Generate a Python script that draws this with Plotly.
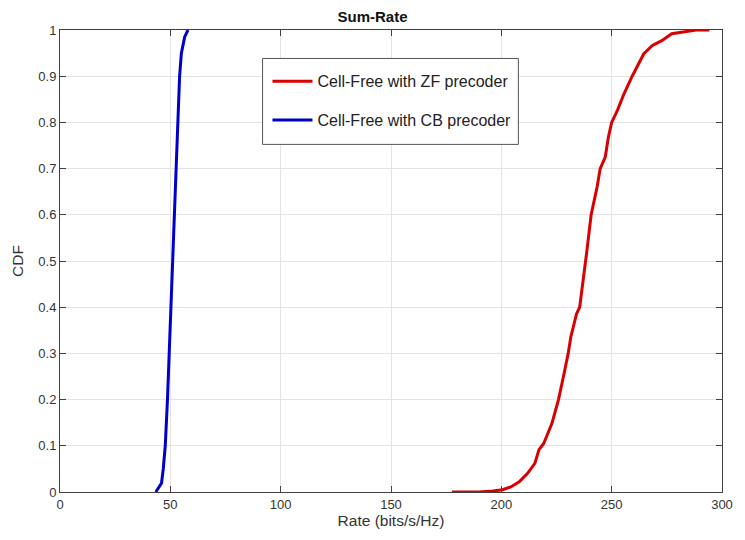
import plotly.graph_objects as go

# Sum-rate CDF data
zf_rate = [177.6, 190.0, 196.2, 200.6, 204.3, 208.1, 211.8, 215.2, 217.0, 219.2, 222.9,
           225.9, 228.1, 230.3, 231.5, 234.1, 235.5, 237.0, 238.1, 238.8, 240.7, 243.4,
           244.8, 247.1, 248.5, 250.0, 252.6, 255.6, 259.3, 262.3, 264.5, 268.3, 272.7,
           277.2, 282.4, 288.3, 294.3]
zf_cdf = [0.0, 0.0, 0.002, 0.005, 0.011, 0.022, 0.040, 0.062, 0.091, 0.105, 0.148,
          0.200, 0.249, 0.300, 0.336, 0.386, 0.400, 0.451, 0.500, 0.523, 0.600, 0.660,
          0.700, 0.725, 0.768, 0.800, 0.826, 0.862, 0.900, 0.927, 0.948, 0.966, 0.977,
          0.992, 0.996, 1.0, 1.0]

cb_rate = [43.4, 46.0, 46.8, 47.7, 48.7, 49.5, 50.2, 51.0, 51.7, 52.6, 53.4, 54.2, 55.0, 56.5, 58.0]
cb_cdf = [0.0, 0.019, 0.05, 0.1, 0.2, 0.3, 0.4, 0.5, 0.6, 0.7, 0.8, 0.9, 0.95, 0.985, 1.0]

x_ticks = [0, 50, 100, 150, 200, 250, 300]
y_ticks = [0, 0.1, 0.2, 0.3, 0.4, 0.5, 0.6, 0.7, 0.8, 0.9, 1]
y_tick_labels = ["0", "0.1", "0.2", "0.3", "0.4", "0.5", "0.6", "0.7", "0.8", "0.9", "1"]

FONT = "Liberation Sans, Arial, sans-serif"
AX = "#404040"

fig = go.Figure()
fig.add_trace(go.Scatter(x=zf_rate, y=zf_cdf, mode="lines", name="Cell-Free with ZF precoder",
                         line=dict(color="#d80000", width=3), legendgroup="zf"))
fig.add_trace(go.Scatter(x=cb_rate, y=cb_cdf, mode="lines", name="Cell-Free with CB precoder",
                         line=dict(color="#0000cc", width=3), legendgroup="cb"))

axis_common = dict(showline=True, linecolor=AX, linewidth=1, mirror="ticks",
                   ticks="inside", ticklen=6, tickcolor=AX, showgrid=True,
                   gridcolor="#e3e3e3", gridwidth=1, zeroline=False,
                   tickfont=dict(family=FONT, size=13, color="#333333"))

fig.update_xaxes(range=[0, 300], tickvals=x_ticks,
                 title=dict(text="Rate (bits/s/Hz)", font=dict(family=FONT, size=15.5, color="#333333"), standoff=4),
                 **axis_common)
fig.update_yaxes(range=[0, 1], tickvals=y_ticks, ticktext=y_tick_labels,
                 title=dict(text="CDF", font=dict(family=FONT, size=15.5, color="#333333"), standoff=10),
                 **axis_common)

# legend frame (white box with grey border)
fig.add_shape(type="rect", xref="paper", yref="paper",
              x0=0.306, x1=0.6924, y0=0.7524, y1=0.9384,
              line=dict(color="#555555", width=1), fillcolor="white", layer="above")

fig.update_layout(
    width=745, height=540,
    margin=dict(l=60, r=12, t=30, b=48),
    paper_bgcolor="white", plot_bgcolor="white",
    title=dict(text="<b>Sum-Rate</b>", x=0.5, xanchor="center", y=1 - 17 / 540, yanchor="middle",
               font=dict(family=FONT, size=15, color="#111111")),
    legend=dict(x=0.3134, y=0.9257, xanchor="left", yanchor="top",
                bgcolor="rgba(0,0,0,0)", borderwidth=0,
                font=dict(family=FONT, size=16, color="#222222"),
                tracegroupgap=15, itemwidth=40),
    showlegend=True,
)

fig.write_html("out.html", config={"displayModeBar": False},
               post_script="document.body.style.margin='0';")
